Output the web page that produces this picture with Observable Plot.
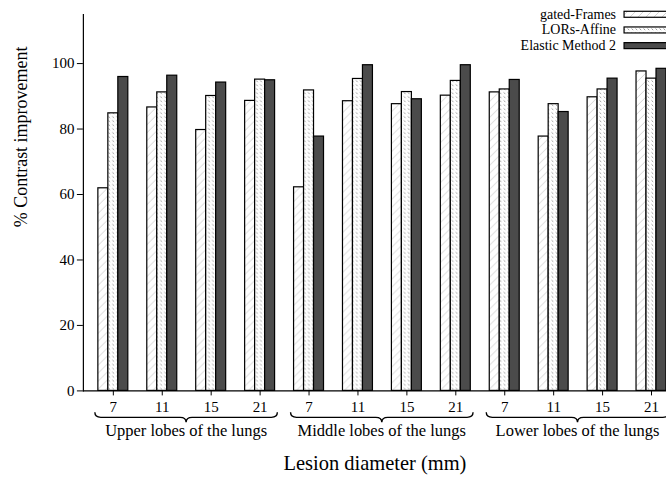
<!DOCTYPE html>
<html><head><meta charset="utf-8">
<script src="https://cdn.jsdelivr.net/npm/d3@7"></script>
<script src="https://cdn.jsdelivr.net/npm/@observablehq/plot@0.6"></script>
<style>
html,body{margin:0;padding:0;background:#fff;overflow:hidden;}
</style></head><body><div id="chart"></div>
<script>
// ---- data ----
const lobes = ["Upper lobes of the lungs", "Middle lobes of the lungs", "Lower lobes of the lungs"];
const diameters = [7, 11, 15, 21];
const seriesNames = ["gated-Frames", "LORs-Affine", "Elastic Method 2"];
const gatedFrames    = [61.9, 86.6, 79.7, 88.6, 62.2, 88.5, 87.6, 90.2, 91.2, 77.7, 89.7, 97.6];
const lorsAffine     = [84.8, 91.2, 90.1, 95.1, 91.8, 95.3, 91.3, 94.7, 92.1, 87.6, 92.1, 95.4];
const elasticMethod2 = [95.9, 96.3, 94.2, 94.9, 77.7, 99.5, 89.1, 99.5, 95.0, 85.2, 95.4, 98.4];
const yTicks = [0, 20, 40, 60, 80, 100];
const yLabel = "% Contrast improvement";
const xLabel = "Lesion diameter (mm)";

// ---- table ----
const keys = lobes.flatMap(l => diameters.map(d => l + "|" + d));
const seriesValues = [gatedFrames, lorsAffine, elasticMethod2];
const rows = seriesNames.flatMap((s, si) => keys.map((k, i) => ({series: s, si, key: k, value: seriesValues[si][i]})));
const fills = ["url(#pat-gated)", "url(#pat-lors)", "#4b4b4b"];
const PI = 0.3927, PO = 0.1075;
const FONT = "'Liberation Serif', serif";

function defsMark() {
  const g = d3.create("svg:g");
  const defs = g.append("defs");
  const p1 = defs.append("pattern").attr("id", "pat-gated").attr("patternUnits", "userSpaceOnUse")
    .attr("width", 8).attr("height", 8);
  p1.append("rect").attr("width", 8).attr("height", 8).attr("fill", "white");
  p1.append("path").attr("d", "M-2,2L2,-2M0,8L8,0M6,10L10,6").attr("stroke", "#c8c8c8").attr("stroke-width", 0.8);
  const p2 = defs.append("pattern").attr("id", "pat-lors").attr("patternUnits", "userSpaceOnUse")
    .attr("width", 4).attr("height", 4);
  p2.append("rect").attr("width", 4).attr("height", 4).attr("fill", "white");
  p2.append("path").attr("d", "M0.5,0.5L2.2,2.2").attr("stroke", "#8a8a8a").attr("stroke-width", 0.9);
  return g.node();
}

function decorations(index, scales, values, dims) {
  const x = scales.x, y = scales.y;
  const step = x(keys[1]) - x(keys[0]);
  const bw = step * (1 - PI);
  const y0 = y(0);
  const g = d3.create("svg:g").attr("font-family", FONT);
  lobes.forEach((l, li) => {
    const x0 = x(keys[li * 4]) - 3, x1 = x(keys[li * 4 + 3]) + bw + 3, xm = (x0 + x1) / 2;
    const a = y0 + 22, b = y0 + 27, c = y0 + 32;
    g.append("path")
      .attr("d", `M${x0},${a}Q${x0},${b} ${x0 + 6},${b}L${xm - 6},${b}Q${xm},${b} ${xm},${c}Q${xm},${b} ${xm + 6},${b}L${x1 - 6},${b}Q${x1},${b} ${x1},${a}`)
      .attr("fill", "none").attr("stroke", "black").attr("stroke-width", 1.4);
    g.append("text").attr("x", xm).attr("y", y0 + 40.5).attr("dy", "0.32em")
      .attr("text-anchor", "middle").attr("font-size", 16.5).text(l);
  });
  // legend (top right)
  const right = dims.width - dims.marginRight;
  seriesNames.forEach((s, i) => {
    const cy = dims.marginTop + 0.3 + i * 15.7;
    g.append("text").attr("x", right - 50).attr("y", cy).attr("dy", "0.32em")
      .attr("text-anchor", "end").attr("font-size", 14).text(s);
    g.append("rect").attr("x", right - 42).attr("y", cy - 3).attr("width", 50).attr("height", 6)
      .attr("fill", fills[i]).attr("stroke", "black").attr("stroke-width", 1.2);
  });
  return g.node();
}

const insets = [[0, 2 / 3], [1 / 3, 1 / 3], [2 / 3, 0]];

const chart = Plot.plot({
  width: 667,
  height: 481,
  marginLeft: 83,
  marginRight: 0,
  marginTop: 14,
  marginBottom: 90,
  style: {fontFamily: FONT, fontSize: "15px", background: "white", color: "black"},
  x: {type: "band", domain: keys, paddingInner: PI, paddingOuter: PO, align: 1, axis: null, label: null},
  y: {domain: [0, 115], axis: null, label: null},
  marks: [
    defsMark,
    ...seriesNames.map((s, si) => {
      const bw = 30;
      return Plot.barY(rows.filter(r => r.si === si), {
        x: "key", y: "value",
        fill: fills[si], stroke: "black", strokeWidth: 1.2,
        insetLeft: insets[si][0] * bw, insetRight: insets[si][1] * bw
      });
    }),
    Plot.ruleY([0], {stroke: "black", strokeWidth: 1.2}),
    Plot.frame({anchor: "left", stroke: "black", strokeWidth: 1.2}),
    Plot.axisY({ticks: yTicks, tickSize: 6, tickPadding: 3, fontSize: 15, fontFamily: FONT, label: null}),
    Plot.axisX({tickFormat: k => k.split("|")[1], tickSize: 5, tickPadding: 5, fontSize: 15, fontFamily: FONT, label: null}),
    Plot.text([{t: yLabel, v: 50}], {text: "t", y: "v", frameAnchor: "left", dx: -62, rotate: -90, fontSize: 18, fontFamily: FONT}),
    Plot.text([xLabel], {frameAnchor: "bottom", dy: 79, fontSize: 20.5, fontFamily: FONT}),
    decorations
  ]
});
document.getElementById("chart").appendChild(chart);
</script></body></html>
